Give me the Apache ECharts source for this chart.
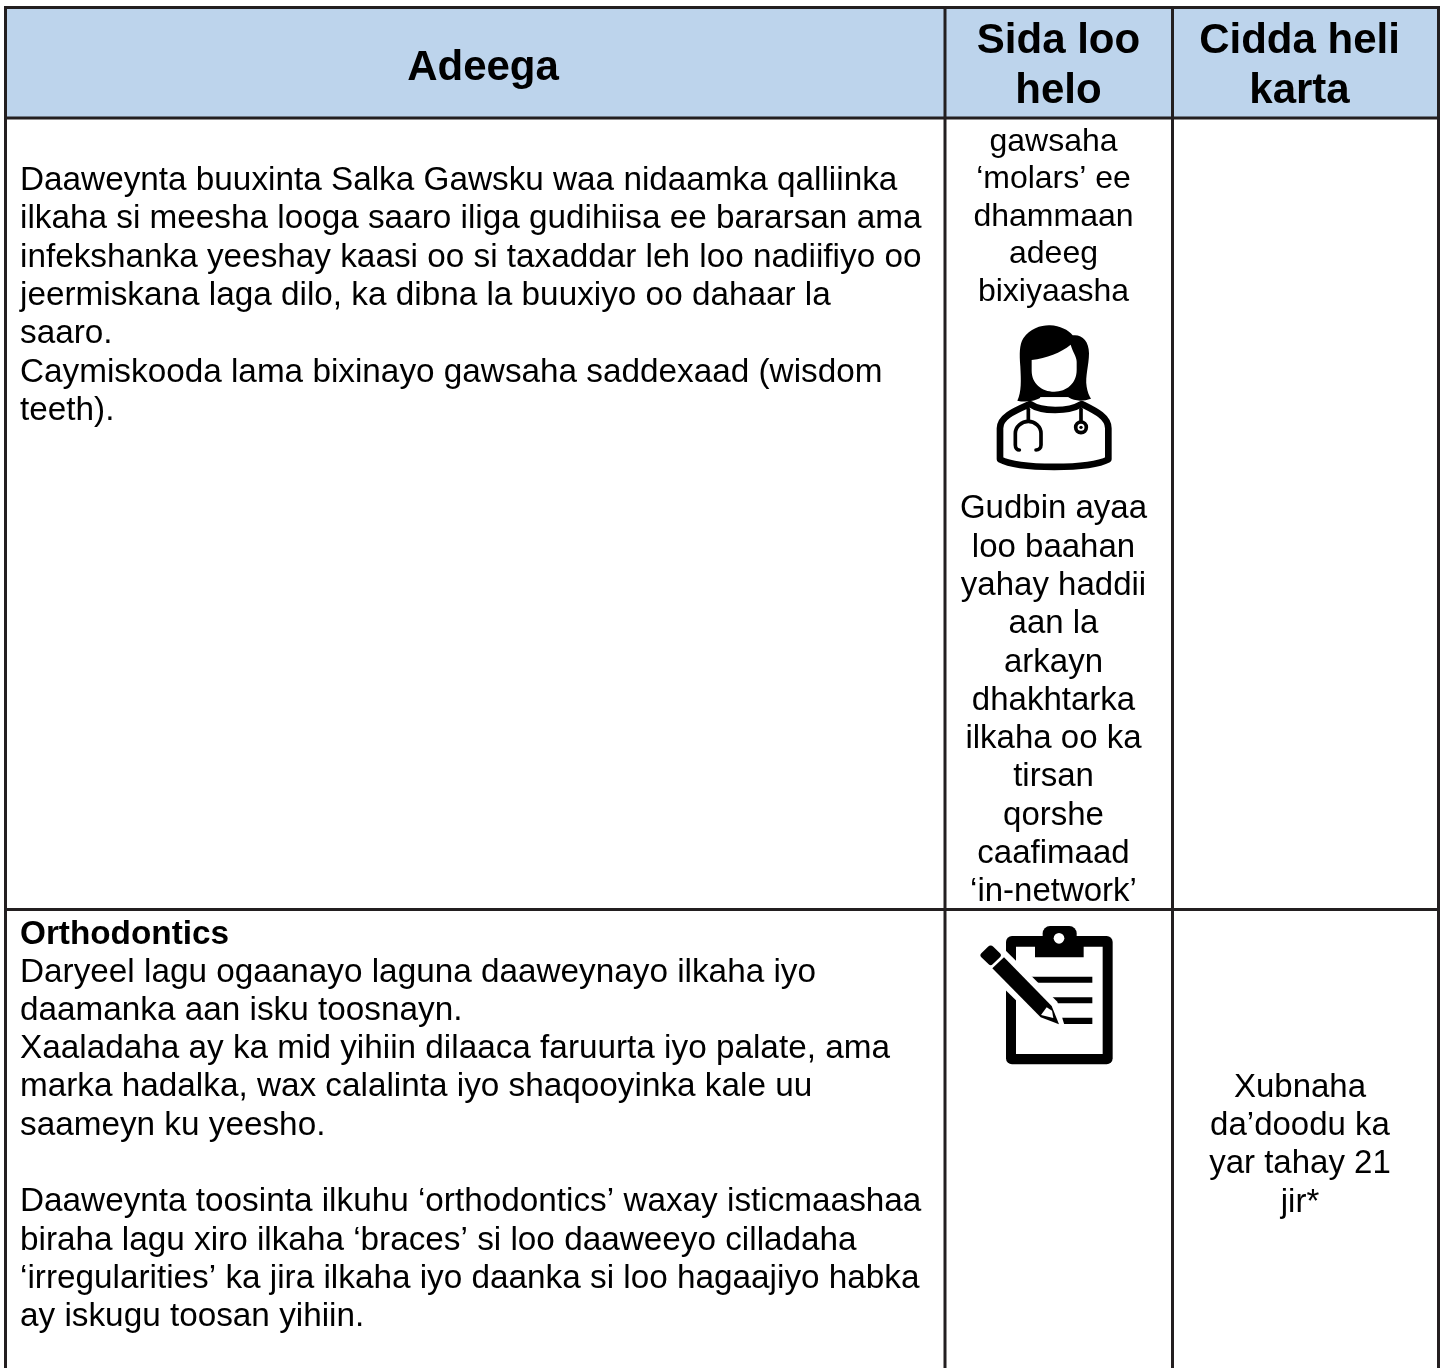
<!DOCTYPE html>
<html>
<head>
<meta charset="utf-8">
<title>Adeega</title>
<script src="https://cdn.jsdelivr.net/npm/echarts@6/dist/echarts.min.js"></script>
<style>
html, body { margin: 0; padding: 0; background: #fff; }
#chart { width: 1443px; height: 1368px; }
</style>
</head>
<body>
<div id="chart"></div>
<script>
// table text
const headAdeega = ["Adeega"];
const headSida = ["Sida loo", "helo"];
const headCidda = ["Cidda heli", "karta"];

const serviceOne = [
  "Daaweynta buuxinta Salka Gawsku waa nidaamka qalliinka",
  "ilkaha si meesha looga saaro iliga gudihiisa ee bararsan ama",
  "infekshanka yeeshay kaasi oo si taxaddar leh loo nadiifiyo oo",
  "jeermiskana laga dilo, ka dibna la buuxiyo oo dahaar la",
  "saaro.",
  "Caymiskooda lama bixinayo gawsaha saddexaad (wisdom",
  "teeth)."
];
const howOneTop = ["gawsaha", "‘molars’ ee", "dhammaan", "adeeg", "bixiyaasha"];
const howOneBottom = [
  "Gudbin ayaa", "loo baahan", "yahay haddii", "aan la", "arkayn", "dhakhtarka",
  "ilkaha oo ka", "tirsan", "qorshe", "caafimaad", "‘in-network’"
];
const serviceTwoTitle = ["Orthodontics"];
const serviceTwo = [
  "Daryeel lagu ogaanayo laguna daaweynayo ilkaha iyo",
  "daamanka aan isku toosnayn.",
  "Xaaladaha ay ka mid yihiin dilaaca faruurta iyo palate, ama",
  "marka hadalka, wax calalinta iyo shaqooyinka kale uu",
  "saameyn ku yeesho.",
  "",
  "Daaweynta toosinta ilkuhu ‘orthodontics’ waxay isticmaashaa",
  "biraha lagu xiro ilkaha ‘braces’ si loo daaweeyo cilladaha",
  "‘irregularities’ ka jira ilkaha iyo daanka si loo hagaajiyo habka",
  "ay iskugu toosan yihiin."
];
const whoTwo = ["Xubnaha", "da’doodu ka", "yar tahay 21", "jir*"];

// layout
const lineColor = "#231f20";
const headFill = "#bdd4ec";
const family = "'Liberation Sans', Arial, sans-serif";
const gridX = [5.5, 945, 1172.5, 1438.5];
const gridY = [7.5, 118, 909.5, 1368];

function textBlock(lines, x, baseline, pitch, align, size, weight) {
  // zrender has no alphabetic baseline, so use bottom and shift by the descent
  const shift = size * 0.22;
  return lines.map(function (line, i) {
    return {
      type: "text",
      z: 5,
      style: {
        text: line,
        x: x,
        y: baseline + pitch * i + shift,
        font: (weight || "normal") + " " + size + "px " + family,
        fill: "#000",
        align: align,
        verticalAlign: "bottom"
      }
    };
  });
}

function gridLine(x1, y1, x2, y2) {
  return {
    type: "line",
    z: 4,
    shape: { x1: x1, y1: y1, x2: x2, y2: y2 },
    style: { stroke: lineColor, lineWidth: 3 }
  };
}

// icons are drawn on a 3x sheet and scaled down
function iconGroup(ox, oy, children) {
  return { type: "group", x: ox, y: oy, scaleX: 1 / 3, scaleY: 1 / 3, children: children };
}

function doctorIcon() {
  const k = { fill: "#000" };
  const w = { fill: "#fff" };
  const ln = { fill: null, stroke: "#000", lineWidth: 11, lineCap: "round" };
  return iconGroup(940, 0, [
    // shoulders
    { type: "path", shape: { pathData: "M180,1378 L180,1285 C180,1250 225,1232 270,1212 C305,1236 385,1236 425,1212 C465,1232 505,1250 505,1285 L505,1378 C450,1408 235,1408 180,1378 Z" },
      style: { fill: "#fff", stroke: "#000", lineWidth: 20, lineJoin: "round" } },
    // hair
    { type: "path", shape: { pathData: "M232,1202 C245,1175 243,1140 241,1100 C238,1060 238,1035 250,1015 C270,985 305,975 330,976 C360,977 385,990 398,1006 C425,1002 447,1022 447,1060 C447,1095 435,1130 440,1160 C442,1175 448,1188 453,1196 C430,1204 405,1205 385,1192 L305,1192 C285,1204 255,1208 232,1202 Z" }, style: k },
    // face
    { type: "path", shape: { pathData: "M275,1080 C320,1075 362,1058 392,1034 C398,1055 410,1070 410,1085 L410,1110 C410,1150 380,1175 343,1175 C305,1175 275,1150 275,1112 Z" }, style: w },
    // neck strip
    { type: "path", shape: { pathData: "M300,1192 L385,1192 L385,1208 C360,1216 325,1216 300,1208 Z" }, style: w },
    // stethoscope
    { type: "path", shape: { pathData: "M265,1228 L265,1262" }, style: ln },
    { type: "path", shape: { pathData: "M238,1350 C232,1350 226,1345 226,1335 L226,1300 C226,1280 245,1264 265,1264 C285,1264 303,1280 303,1300 L303,1335 C303,1345 296,1350 288,1350" }, style: ln },
    { type: "path", shape: { pathData: "M423,1228 L423,1262" }, style: ln },
    { type: "circle", shape: { cx: 423, cy: 1282, r: 16 }, style: { fill: "#fff", stroke: "#000", lineWidth: 11 } },
    { type: "circle", shape: { cx: 423, cy: 1282, r: 5 }, style: k }
  ]);
}

function clipboardIcon() {
  const k = { fill: "#000" };
  const w = { fill: "#fff" };
  return iconGroup(950, 900, [
    { type: "rect", shape: { x: 168, y: 108, width: 320, height: 385, r: 18 }, style: k },
    { type: "rect", shape: { x: 198, y: 140, width: 260, height: 322 }, style: w },
    // clip
    { type: "rect", shape: { x: 278, y: 78, width: 102, height: 50, r: 22 }, style: k },
    { type: "rect", shape: { x: 255, y: 110, width: 146, height: 62 }, style: k },
    { type: "circle", shape: { cx: 327, cy: 115, r: 16 }, style: w },
    // written lines
    { type: "rect", shape: { x: 240, y: 230, width: 187, height: 18 }, style: k },
    { type: "rect", shape: { x: 300, y: 292, width: 127, height: 18 }, style: k },
    { type: "rect", shape: { x: 330, y: 353, width: 97, height: 19 }, style: k },
    // white gap round the pencil
    { type: "polygon", shape: { points: [[100, 205], [160, 145], [322, 305], [346, 384], [262, 364]] }, style: w },
    // eraser
    { type: "path", shape: { pathData: "M94,160 L114,140 C119,135 125,135 130,140 L150,160 C154,164 154,168 150,172 L128,193 C124,197 120,197 116,193 L94,172 C90,168 90,164 94,160 Z" }, style: k },
    // pencil body and tip
    { type: "polygon", shape: { points: [[127, 205], [162, 172], [305, 318], [327, 373], [272, 352]] }, style: k },
    { type: "polygon", shape: { points: [[273, 345], [290, 322], [306, 332], [310, 354]] }, style: w }
  ]);
}

const elements = [
  { type: "rect", z: 1, shape: { x: gridX[0], y: gridY[0], width: gridX[3] - gridX[0], height: gridY[1] - gridY[0] }, style: { fill: headFill } },
  gridLine(gridX[0] - 1.5, gridY[0], gridX[3] + 1.5, gridY[0]),
  gridLine(gridX[0] - 1.5, gridY[1], gridX[3] + 1.5, gridY[1]),
  gridLine(gridX[0] - 1.5, gridY[2], gridX[3] + 1.5, gridY[2])
].concat(
  gridX.map(function (x) { return gridLine(x, gridY[0], x, gridY[3]); }),
  textBlock(headAdeega, 483, 80, 0, "center", 42, "bold"),
  textBlock(headSida, 1058.5, 53.5, 49.5, "center", 42, "bold"),
  textBlock(headCidda, 1299.5, 53.5, 49.5, "center", 42, "bold"),
  textBlock(serviceOne, 20, 190, 38.33, "left", 33.3),
  textBlock(howOneTop, 1053.5, 151, 37.5, "center", 32),
  textBlock(howOneBottom, 1053.5, 518.5, 38.3, "center", 33),
  textBlock(serviceTwoTitle, 20, 943.5, 0, "left", 33.3, "bold"),
  textBlock(serviceTwo, 20, 981.5, 38.3, "left", 33.3),
  textBlock(whoTwo, 1300, 1097, 38.3, "center", 33)
);

const chart = echarts.init(document.getElementById("chart"), null, { renderer: "canvas" });
chart.setOption({
  animation: false,
  backgroundColor: "#fff",
  graphic: { elements: elements },
  // the icons need pathData, which only custom series takes
  series: [{
    type: "custom",
    coordinateSystem: "none",
    silent: true,
    z: 6,
    data: [0],
    renderItem: function () {
      return { type: "group", children: [doctorIcon(), clipboardIcon()] };
    }
  }]
});
</script>
</body>
</html>
